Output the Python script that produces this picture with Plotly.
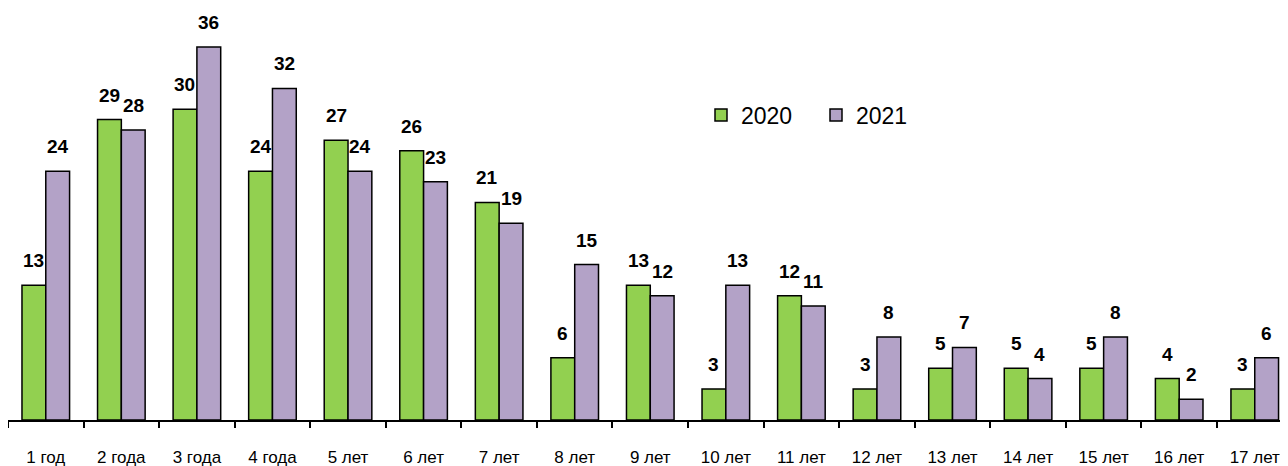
import plotly.graph_objects as go

categories = ["1 год", "2 года", "3 года", "4 года", "5 лет", "6 лет", "7 лет", "8 лет",
              "9 лет", "10 лет", "11 лет", "12 лет", "13 лет", "14 лет", "15 лет", "16 лет", "17 лет"]
values_2020 = [13, 29, 30, 24, 27, 26, 21, 6, 13, 3, 12, 3, 5, 5, 5, 4, 3]
values_2021 = [24, 28, 36, 32, 24, 23, 19, 15, 12, 13, 11, 8, 7, 4, 8, 2, 6]

FONT = "Liberation Sans, Arial, sans-serif"
W, H = 1280, 458  # page body has an 8px margin in the browser
PX_PER_CAT = 1280 / 16.94
BARGAP = 0.37
HALF_BAR = PX_PER_CAT * (1 - BARGAP) / 4

fig = go.Figure()
fig.add_trace(go.Bar(
    name="2020", x=categories, y=values_2020,
    marker=dict(color="#92D050", line=dict(color="black", width=1.5)),
))
fig.add_trace(go.Bar(
    name="2021", x=categories, y=values_2021,
    marker=dict(color="#B3A2C7", line=dict(color="black", width=1.5)),
))

annotations = []
for series, shift in ((values_2020, -HALF_BAR), (values_2021, HALF_BAR)):
    for cat, v in zip(categories, series):
        annotations.append(dict(
            x=cat, y=v, xref="x", yref="y", text=str(v), showarrow=False,
            xanchor="center", yanchor="bottom", xshift=shift, yshift=12,
            font=dict(family=FONT, size=19, color="black", weight="bold"),
        ))

fig.update_layout(
    width=W, height=H,
    margin=dict(l=0, r=0, t=0, b=46, autoexpand=False),
    paper_bgcolor="white", plot_bgcolor="white",
    barmode="group", bargap=BARGAP, bargroupgap=0,
    font=dict(family=FONT, color="black"),
    showlegend=True,
    legend=dict(
        orientation="h", xref="paper", yref="paper",
        x=693 / 1280, y=1 - 107 / 412, xanchor="left", yanchor="middle",
        font=dict(family=FONT, size=23, color="black"),
        bgcolor="rgba(0,0,0,0)", entrywidth=70, entrywidthmode="pixels",
    ),
    annotations=annotations,
)
fig.update_xaxes(
    range=[-0.5, 16.44], showline=True, linecolor="black", linewidth=1.5,
    ticks="outside", ticklen=6, tickwidth=1.5, tickcolor="black",
    tickson="boundaries", showgrid=False, zeroline=False, automargin=False,
    tickfont=dict(family=FONT, size=17, color="black"),
    ticklabelstandoff=21,
)
fig.update_yaxes(range=[0, 39.77], visible=False, showgrid=False, zeroline=False, automargin=False)

fig.write_html("out.html")
